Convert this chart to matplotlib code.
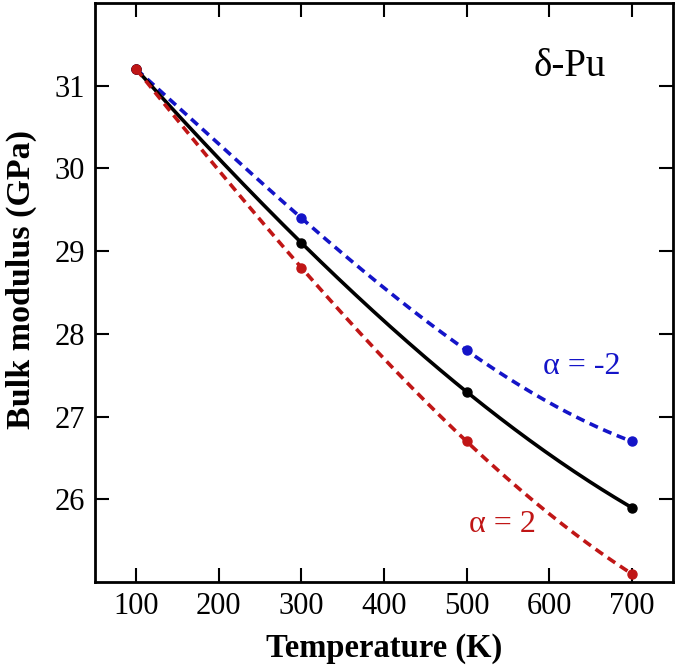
import numpy as np
import matplotlib
import matplotlib.pyplot as plt

matplotlib.use("Agg")

# data
temps = [100, 300, 500, 700]
bulk_base = [31.2, 29.1, 27.3, 25.9]        # solid black
bulk_alpha_m2 = [31.2, 29.4, 27.8, 26.7]    # alpha = -2
bulk_alpha_p2 = [31.2, 28.8, 26.7, 25.1]    # alpha = 2
x_ticks = [100, 200, 300, 400, 500, 600, 700]
y_ticks = [26, 27, 28, 29, 30, 31]

plt.rcParams['font.family'] = ['Liberation Serif', 'DejaVu Serif']

fig = plt.figure(figsize=(6.77, 6.66), dpi=100)
ax = fig.add_axes([95 / 677, 1 - 582 / 666, 578 / 677, 579 / 666])

t_fine = np.linspace(temps[0], temps[-1], 200)


def smooth(vals):
    # cubic through the four computed points
    coef = np.polyfit(temps, vals, 3)
    return np.polyval(coef, t_fine)


blue = '#1414c8'
red = '#c01616'
dash = (0, (2.5, 1.6))

ax.plot(t_fine, smooth(bulk_alpha_m2), color=blue, linestyle=dash, linewidth=2.6)
ax.plot(temps, bulk_alpha_m2, 'o', color=blue, markersize=6.5)
ax.plot(t_fine, smooth(bulk_base), color='black', linewidth=2.6)
ax.plot(temps, bulk_base, 'o', color='black', markersize=6.5)
ax.plot(t_fine, smooth(bulk_alpha_p2), color=red, linestyle=dash, linewidth=2.6)
ax.plot(temps, bulk_alpha_p2, 'o', color=red, markersize=6.5)

ax.set_xlim(50, 750)
ax.set_ylim(25, 32)
ax.set_xticks(x_ticks)
ax.set_yticks(y_ticks)
ax.tick_params(direction='in', top=True, right=True, length=10, width=1.5, labelsize=22, pad=7)
for sp in ax.spines.values():
    sp.set_linewidth(2)

ax.set_xlabel("Temperature (K)", fontsize=23.5, fontweight='bold', labelpad=9)
ax.set_ylabel("Bulk modulus (GPa)", fontsize=24.5, fontweight='bold')
ax.yaxis.set_label_coords(-0.1, 0.523)

ax.text(625, 31.23, "δ-Pu", fontsize=28, ha='center', va='center')
ax.text(639, 27.6, "α = -2", fontsize=23, color=blue, ha='center', va='center')
ax.text(543, 25.69, "α = 2", fontsize=23, color=red, ha='center', va='center')

plt.savefig("out.png", dpi=100)
plt.close()
